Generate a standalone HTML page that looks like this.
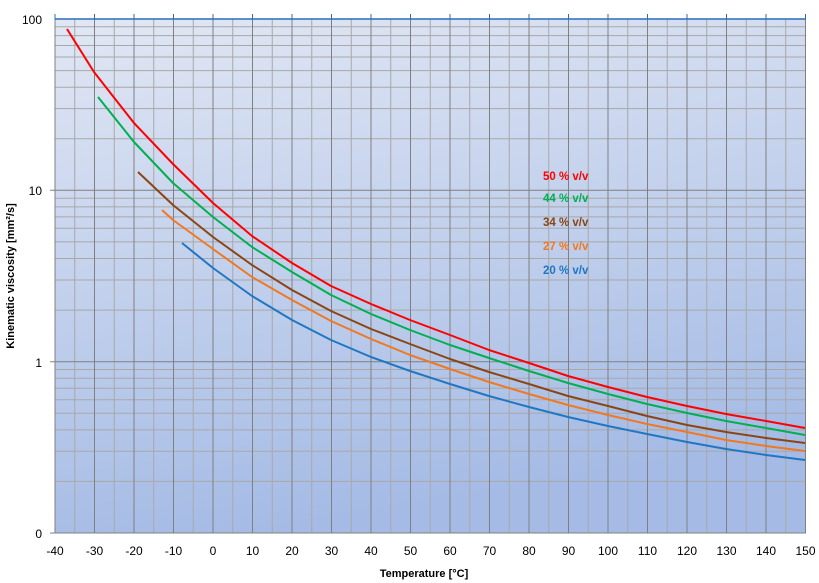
<!DOCTYPE html>
<html><head><meta charset="utf-8"><style>
html,body{margin:0;padding:0;background:#fff;}
svg{display:block;font-family:"Liberation Sans",Arial,sans-serif;}
</style></head><body>
<svg width="819" height="583" viewBox="0 0 819 583" xmlns="http://www.w3.org/2000/svg">
<defs>
<linearGradient id="bg" x1="0" y1="0" x2="0.25" y2="1">
<stop offset="0" stop-color="#e1e7f4"/>
<stop offset="1" stop-color="#a5bbe5"/>
</linearGradient>
</defs>
<rect x="55" y="19" width="751" height="514" fill="url(#bg)"/>
<path fill="none" stroke="#a8a8a8" stroke-width="1" d="
M55,481.4H806 M55,451.3H806 M55,429.9H806 M55,413.2H806 M55,399.7H806 M55,388.2H806 M55,378.3H806 M55,369.5H806
M55,310.1H806 M55,280H806 M55,258.5H806 M55,241.9H806 M55,228.3H806 M55,216.9H806 M55,206.9H806 M55,198.2H806
M55,138.8H806 M55,108.6H806 M55,87.2H806 M55,70.6H806 M55,57H806 M55,45.5H806 M55,35.6H806 M55,26.8H806
M74.75,19V533 M114.25,19V533 M153.75,19V533 M193.25,19V533 M232.75,19V533 M272.25,19V533 M311.75,19V533 M351.25,19V533 M390.75,19V533 M430.25,19V533 M469.75,19V533 M509.25,19V533 M548.75,19V533 M588.25,19V533 M627.75,19V533 M667.25,19V533 M706.75,19V533 M746.25,19V533 M785.75,19V533"/>
<path fill="none" stroke="#808080" stroke-width="1" d="
M94.5,19V533 M134,19V533 M173.5,19V533 M213,19V533 M252.5,19V533 M292,19V533 M331.5,19V533 M371,19V533 M410.5,19V533 M450,19V533 M489.5,19V533 M529,19V533 M568.5,19V533 M608,19V533 M647.5,19V533 M687,19V533 M726.5,19V533 M766,19V533 M805.5,19V533
M55,19V533 M50,533H806 M50,361.7H806 M50,190.3H806"/>
<path fill="none" stroke="#2a6ebb" stroke-width="1.5" d="M55,19H806"/>
<path fill="none" stroke="#2a6ebb" stroke-width="1" d="M55,14V19 M94.5,14V19 M134,14V19 M173.5,14V19 M213,14V19 M252.5,14V19 M292,14V19 M331.5,14V19 M371,14V19 M410.5,14V19 M450,14V19 M489.5,14V19 M529,14V19 M568.5,14V19 M608,14V19 M647.5,14V19 M687,14V19 M726.5,14V19 M766,14V19 M805.5,14V19"/>
<g fill="none" stroke-width="2" stroke-linejoin="round">
<path stroke="#ff0000" d="M67,29 L94,72 L134,123 L173,164 L213,203 L252,236 L292,263 L331,286 L371,304 L410,320 L450,335 L489,350 L529,363 L568,376 L608,387 L647,397 L687,406 L726,414 L766,421 L805,428"/>
<path stroke="#00b050" d="M98,97 L134,142 L173,183 L213,217 L252,247 L292,272 L331,295 L371,314 L410,330 L450,345 L489,358 L529,371 L568,383 L608,394 L647,404 L687,413 L726,421 L766,428 L805,435"/>
<path stroke="#8b4513" d="M138,172 L173,205 L213,237 L252,265 L292,290 L331,311 L371,329 L410,344 L450,359 L489,372 L529,384 L568,396 L608,406 L647,416 L687,425 L726,432 L766,438 L805,443"/>
<path stroke="#f07820" d="M162,210 L173,220 L213,249 L252,277 L292,300 L331,321 L371,339 L410,355 L450,369 L489,382 L529,394 L568,405 L608,415 L647,424 L687,432 L726,440 L766,446 L805,451"/>
<path stroke="#1f77c4" d="M182,243 L213,268 L252,296 L292,320 L331,340 L371,357 L410,371 L450,384 L489,396 L529,407 L568,417 L608,426 L647,434 L687,442 L726,449 L766,455 L805,460"/>
</g>
<g font-size="11.5" font-weight="bold">
<text x="543" y="180" fill="#ff0000">50 % v/v</text>
<text x="543" y="202" fill="#00b050">44 % v/v</text>
<text x="543" y="226" fill="#8b4513">34 % v/v</text>
<text x="543" y="250" fill="#f07820">27 % v/v</text>
<text x="543" y="274" fill="#1f77c4">20 % v/v</text>
</g>
<g font-size="12" text-anchor="end" fill="#000">
<text x="42" y="24">100</text>
<text x="42" y="195">10</text>
<text x="42" y="367">1</text>
<text x="42" y="538">0</text>
</g>
<g font-size="12" text-anchor="middle" fill="#000">
<text x="55" y="555">-40</text><text x="94.5" y="555">-30</text><text x="134" y="555">-20</text><text x="173.5" y="555">-10</text><text x="213" y="555">0</text><text x="252.5" y="555">10</text><text x="292" y="555">20</text><text x="331.5" y="555">30</text><text x="371" y="555">40</text><text x="410.5" y="555">50</text><text x="450" y="555">60</text><text x="489.5" y="555">70</text><text x="529" y="555">80</text><text x="568.5" y="555">90</text><text x="608" y="555">100</text><text x="647.5" y="555">110</text><text x="687" y="555">120</text><text x="726.5" y="555">130</text><text x="766" y="555">140</text><text x="805.5" y="555">150</text>
</g>
<text x="424" y="577" font-size="11" font-weight="bold" text-anchor="middle">Temperature [°C]</text>
<text transform="translate(14,276) rotate(-90)" font-size="11" font-weight="bold" text-anchor="middle">Kinematic viscosity  [mm²/s]</text>
</svg>
</body></html>
